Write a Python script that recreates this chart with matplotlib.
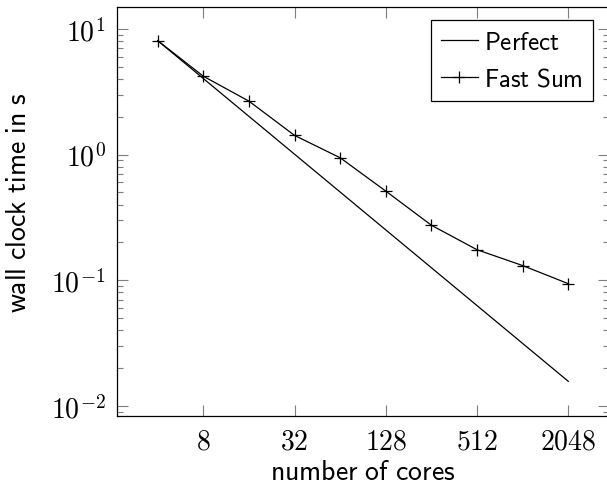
import numpy as np
import matplotlib.pyplot as plt
from matplotlib.ticker import FixedLocator, FuncFormatter, LogLocator, NullLocator

plt.rcParams['mathtext.fontset'] = 'cm'

# strong scaling measurements
cores = [4, 8, 16, 32, 64, 128, 256, 512, 1024, 2048]
fast_sum = [8.05, 4.2, 2.66, 1.42, 0.943, 0.512, 0.274, 0.175, 0.131, 0.094]
perfect_base = 8.05
perfect = [perfect_base * cores[0] / c for c in cores]

x_ticks = [8, 32, 128, 512, 2048]
y_ticks = [1e-2, 1e-1, 1e0, 1e1]

fig = plt.figure(figsize=(6.07, 4.89), dpi=100)
ax = fig.add_axes([0.1923, 0.1479, 0.8115, 0.8357])

ax.plot(cores, perfect, color='black', lw=0.9, label=r'$\mathsf{Perfect}$')
ax.plot(cores, fast_sum, color='black', lw=0.9, marker='+', markersize=8,
        markeredgewidth=0.9, label=r'$\mathsf{Fast\ Sum}$')

ax.set_xscale('log', base=2)
ax.set_yscale('log')
ax.set_xlim(2 ** 1.1, 2 ** 11.9)
ax.set_ylim(10 ** -2.077, 10 ** 1.174)

ax.xaxis.set_major_locator(FixedLocator(x_ticks))
ax.xaxis.set_minor_locator(NullLocator())
ax.xaxis.set_major_formatter(FuncFormatter(lambda v, p: r'$%d$' % round(v)))
ax.yaxis.set_major_locator(FixedLocator(y_ticks))
ax.yaxis.set_minor_locator(LogLocator(base=10, subs=np.arange(2, 10), numticks=20))
ax.yaxis.set_major_formatter(FuncFormatter(lambda v, p: r'$10^{%d}$' % round(np.log10(v))))

ax.tick_params(which='both', direction='in', top=True, right=True,
               color='#7f7f7f', width=0.8, labelsize=20)
ax.tick_params(which='major', length=8, pad=8)
ax.tick_params(which='minor', length=4.5)

for sp in ax.spines.values():
    sp.set_linewidth(0.9)

ax.set_xlabel(r'$\mathsf{number\ of\ cores}$', fontsize=20)
ax.set_ylabel(r'$\mathsf{wall\ clock\ time\ in\ s}$', fontsize=20)
ax.xaxis.set_label_coords(0.5, -0.102)
ax.yaxis.set_label_coords(-0.172, 0.523)

leg = ax.legend(loc='upper right', bbox_to_anchor=(0.967, 0.968), borderaxespad=0,
                fontsize=18, frameon=True, fancybox=False, edgecolor='black',
                framealpha=1, handlelength=1.5, handletextpad=0.25,
                borderpad=0.4, labelspacing=0.5)
leg.get_frame().set_linewidth(0.9)

fig.savefig('out.png', dpi=100)
